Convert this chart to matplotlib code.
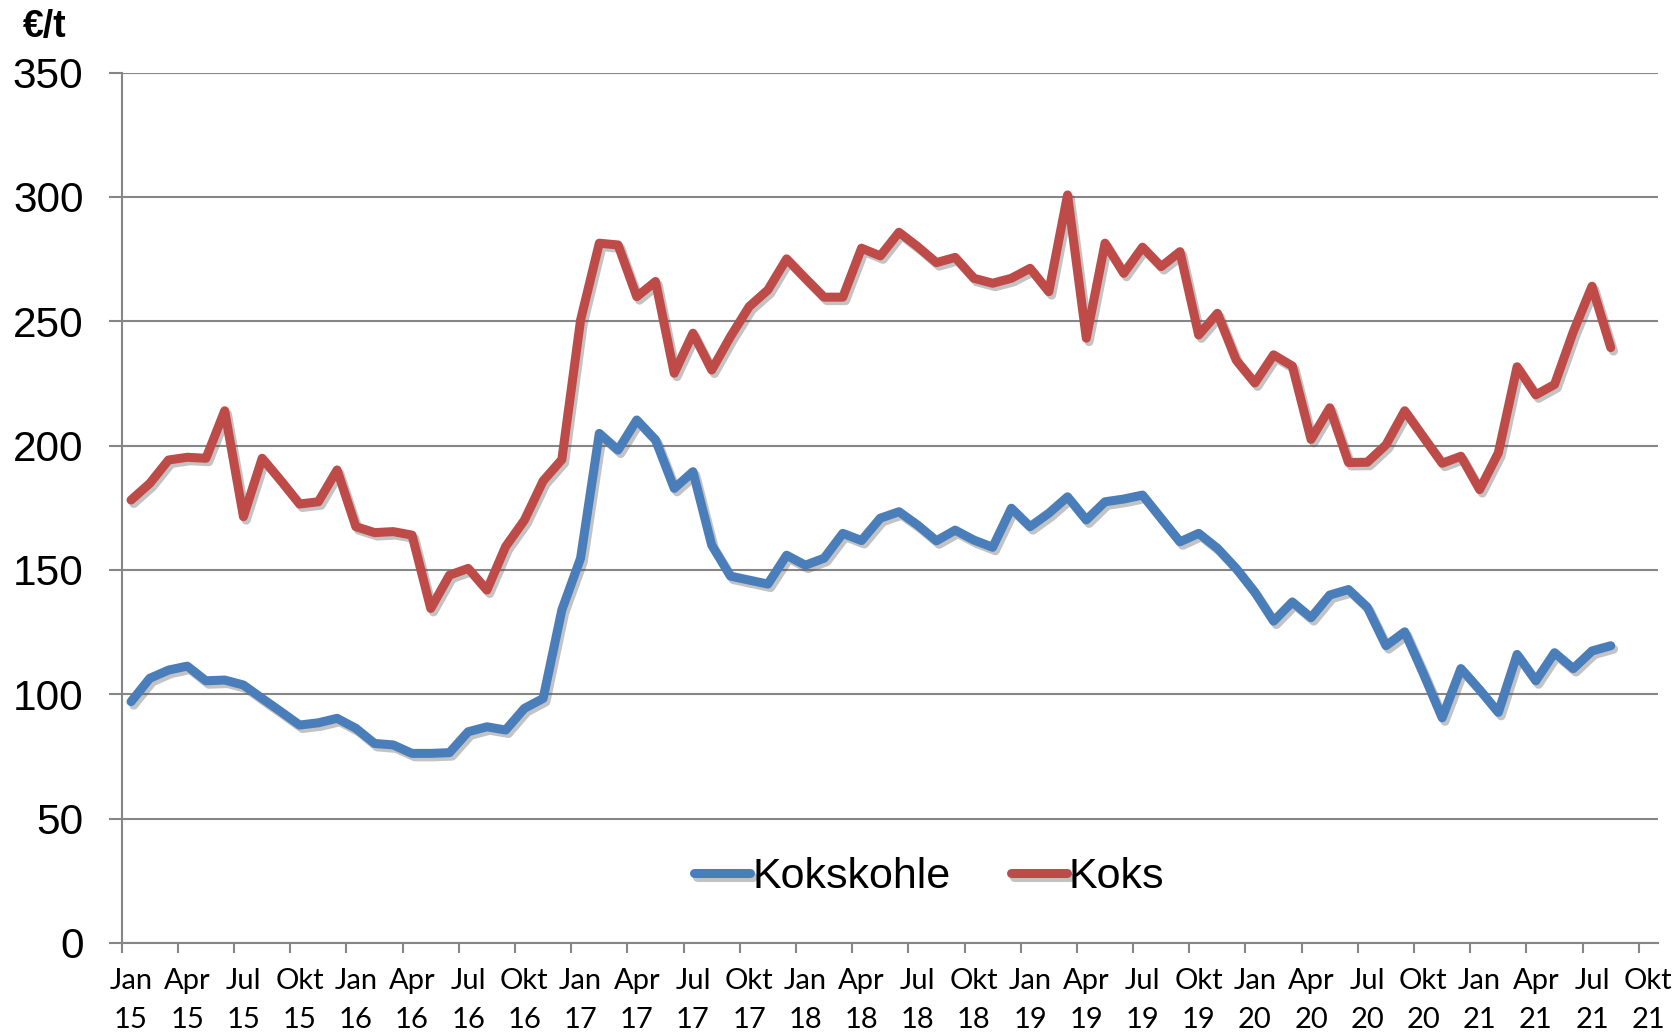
import numpy as np
import matplotlib
matplotlib.use("Agg")
import matplotlib.pyplot as plt
import matplotlib.patheffects as pe
from matplotlib.ticker import FixedLocator, NullFormatter

# monthly prices Jan 2015 .. Aug 2021 (EUR per tonne)
kokskohle = [97, 106.4, 109.7, 111.3, 105.4, 105.7, 103.7, 98.3, 93.0, 87.6,
             88.5, 90.3, 86.3, 80.2, 79.6, 76.2, 76.2, 76.5, 84.9, 86.9,
             85.6, 94.3, 98.3, 133.9, 154.7, 204.9, 198.2, 210.3, 202.3, 182.8,
             189.5, 160.0, 147.5, 145.9, 144.3, 155.9, 151.9, 154.7, 164.7, 161.8,
             170.8, 173.4, 168, 161.7, 166.0, 162.0, 159.1, 174.8, 167.4, 172.8,
             179.4, 170.1, 177.4, 178.5, 180.1, 170.7, 161.3, 164.7, 158.7, 150.6,
             141, 129.4, 137.1, 130.8, 139.9, 142.1, 135.0, 119.5, 125.1, 108.2,
             90.5, 110.3, 101.8, 92.7, 116.0, 105.4, 116.7, 110.3, 117.4, 119.5]
koks = [178.1, 184.8, 194.2, 195.3, 194.9, 214.0, 171.4, 194.9, 185.9, 176.5,
        177.4, 190.2, 167.4, 165.0, 165.4, 164.0, 134.5, 147.9, 150.6, 141.9,
        159.4, 170, 185.8, 194.4, 250.5, 281.4, 280.7, 259.9, 266.0, 229.1,
        245.2, 230.4, 243.8, 255.9, 262.6, 275.1, 267.3, 259.7, 259.7, 279.4,
        276.3, 285.8, 280, 273.6, 275.7, 267.3, 265.3, 267.3, 271.3, 261.9,
        300.8, 243.2, 281.4, 269.3, 279.8, 272.0, 278.0, 244.5, 253.2, 234.4,
        225.2, 236.5, 232.0, 202.5, 215.2, 193.2, 193.3, 200.3, 214.0, 203.4,
        192.9, 195.7, 182.3, 197.1, 231.7, 220.4, 224.6, 245.8, 264.1, 239.4]

month_names = ["Jan", "Apr", "Jul", "Okt"]
years = ["15", "16", "17", "18", "19", "20", "21"]
n_categories = 82  # Jan 15 .. Okt 21

tick_labels = [f"{m}\n{y}" for y in years for m in month_names]

blue = "#4a7ebb"
red = "#be4b48"
grid_grey = "#868686"

fig = plt.figure(figsize=(16.76, 10.32), dpi=100)
ax = fig.add_axes([0.0726, 0.0864, 0.9164, 0.8432])

x = np.arange(len(koks))
shadow = [pe.SimpleLineShadow(offset=(2, -2.5), shadow_color="#555555", alpha=0.35), pe.Normal()]
ax.plot(x, kokskohle, color=blue, lw=6.5, solid_joinstyle="round", solid_capstyle="round",
        label="Kokskohle", path_effects=shadow, zorder=3)
ax.plot(x, koks, color=red, lw=6.5, solid_joinstyle="round", solid_capstyle="round",
        label="Koks", path_effects=shadow, zorder=3)

ax.set_xlim(-0.5, n_categories - 0.5)
ax.set_ylim(0, 350)

# y axis
ax.set_yticks(np.arange(0, 351, 50))
ax.yaxis.grid(True, color=grid_grey, lw=1.5)
ax.set_axisbelow(True)
ax.tick_params(axis="y", length=9.5, width=1.5, color=grid_grey, pad=18, labelsize=30.5)
for t in ax.get_yticklabels():
    t.set_fontfamily("Liberation Sans")

# x axis: tick marks on category boundaries, labels at category centres
ax.xaxis.set_major_locator(FixedLocator(np.arange(-0.5, n_categories - 1, 3)))
ax.xaxis.set_major_formatter(NullFormatter())
ax.xaxis.set_minor_locator(FixedLocator(np.arange(0, n_categories, 3)))
ax.set_xticklabels(tick_labels, minor=True)
ax.tick_params(axis="x", which="major", length=7.5, width=1.5, color=grid_grey)
ax.tick_params(axis="x", which="minor", length=0, pad=18, labelsize=21)
for t in ax.get_xticklabels(minor=True):
    t.set_fontfamily("Lato")
    t.set_linespacing(1.65)

for side in ["top", "right"]:
    ax.spines[side].set_visible(False)
for side in ["left", "bottom"]:
    ax.spines[side].set_color(grid_grey)
    ax.spines[side].set_linewidth(1.5)

leg = ax.legend(loc="center", bbox_to_anchor=(0.5545, 0.150), bbox_transform=fig.transFigure,
                ncol=2, frameon=False, handlelength=1.3, handletextpad=0.05,
                columnspacing=1.4, borderpad=0,
                prop={"family": "Liberation Sans", "size": 31})
for line in leg.get_lines():
    line.set_linewidth(6.5)
    line.set_solid_capstyle("round")

fig.text(0.0137, 0.974, "€/t", fontsize=27, fontweight="bold", family="Liberation Sans",
         ha="left", va="center")

fig.savefig("out.png", dpi=100)
